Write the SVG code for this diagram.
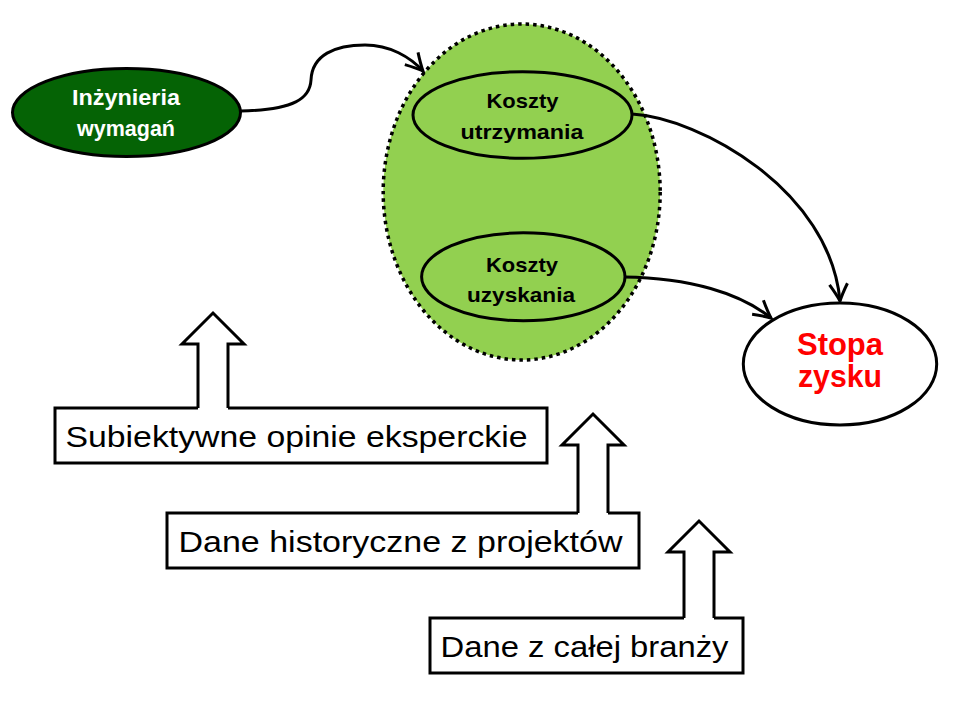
<svg xmlns="http://www.w3.org/2000/svg" width="960" height="720" viewBox="0 0 960 720">
<style>
  .lbl{font-family:"Liberation Sans","Noto Sans",sans-serif;font-weight:bold;text-anchor:middle}
  .box{fill:#ffffff;stroke:#000;stroke-width:3}
  .btxt{font-family:"Liberation Sans","Noto Sans",sans-serif;font-size:30px;fill:#000}
  .blk{fill:#ffffff;stroke:#000;stroke-width:3;stroke-linejoin:miter}
  .conn{fill:none;stroke:#000;stroke-width:3}
</style>
<defs>
  <marker id="arr" viewBox="-20 -11 23 22" refX="0" refY="0" markerWidth="23" markerHeight="22" markerUnits="userSpaceOnUse" orient="auto">
    <path d="M-17,-9 Q-7,-3 0,0 Q-7,3 -17,9" fill="none" stroke="#000" stroke-width="3" stroke-linejoin="miter"/>
  </marker>
</defs>
<rect width="960" height="720" fill="#ffffff"/>

<g id="group-costs">
  <ellipse cx="521.7" cy="192" rx="138.5" ry="168" fill="#92d050" stroke="#000" stroke-width="3.5" stroke-dasharray="3.5 4"/>
</g>

<g id="connectors">
  <path class="conn" d="M240.5,111 C295,110 310,98 311,80 C312,55 335,45 365,45 C390,45 410,57 423,71" marker-end="url(#arr)"/>
  <path class="conn" d="M632,114 C700,118 830,190 840,301" marker-end="url(#arr)"/>
  <path class="conn" d="M624,277 C690,278 740,293 771,318" marker-end="url(#arr)"/>
</g>

<g id="node-inzynieria">
  <ellipse cx="126.5" cy="112.5" rx="114" ry="44" fill="#056305" stroke="#000" stroke-width="3"/>
  <text class="lbl" x="126" y="105" font-size="22" fill="#ffffff" textLength="108" lengthAdjust="spacingAndGlyphs">Inżynieria</text>
  <text class="lbl" x="126" y="136" font-size="22" fill="#ffffff" textLength="98" lengthAdjust="spacingAndGlyphs">wymagań</text>
</g>

<g id="node-utrzymania">
  <ellipse cx="522.5" cy="115" rx="109.5" ry="43.3" fill="none" stroke="#000" stroke-width="3"/>
  <text class="lbl" x="522.5" y="108" font-size="21" fill="#000" textLength="72" lengthAdjust="spacingAndGlyphs">Koszty</text>
  <text class="lbl" x="522" y="139" font-size="21" fill="#000" textLength="123" lengthAdjust="spacingAndGlyphs">utrzymania</text>
</g>

<g id="node-uzyskania">
  <ellipse cx="523.3" cy="276.8" rx="101.7" ry="44" fill="none" stroke="#000" stroke-width="3"/>
  <text class="lbl" x="522" y="271.5" font-size="21" fill="#000" textLength="72" lengthAdjust="spacingAndGlyphs">Koszty</text>
  <text class="lbl" x="521" y="301.5" font-size="21" fill="#000" textLength="108" lengthAdjust="spacingAndGlyphs">uzyskania</text>
</g>

<g id="node-stopa">
  <ellipse cx="840" cy="364" rx="96.7" ry="61" fill="#ffffff" stroke="#000" stroke-width="3"/>
  <text class="lbl" x="840" y="355" font-size="31" fill="#ff0000" textLength="86" lengthAdjust="spacingAndGlyphs">Stopa</text>
  <text class="lbl" x="840" y="387" font-size="31" fill="#ff0000" textLength="84" lengthAdjust="spacingAndGlyphs">zysku</text>
</g>

<g id="node-subiektywne">
  <rect class="box" x="55" y="408" width="492" height="55"/>
  <text class="btxt" x="65.5" y="446.5" textLength="462" lengthAdjust="spacingAndGlyphs">Subiektywne opinie eksperckie</text>
  <polygon points="198,411 198,344 182,344 213,313 244,344 228,344 228,411" fill="#fff"/>
  <path class="blk" d="M198,408 L198,344 L182,344 L213,313 L244,344 L228,344 L228,408"/>
</g>

<g id="node-historyczne">
  <rect class="box" x="167" y="513" width="472" height="55"/>
  <text class="btxt" x="178.5" y="551.5" textLength="444" lengthAdjust="spacingAndGlyphs">Dane historyczne z projektów</text>
  <polygon points="578,516 578,445 562,445 593,414 624,445 608,445 608,516" fill="#fff"/>
  <path class="blk" d="M578,513 L578,445 L562,445 L593,414 L624,445 L608,445 L608,513"/>
</g>

<g id="node-branza">
  <rect class="box" x="430" y="618" width="313" height="55"/>
  <text class="btxt" x="440.5" y="656.5" textLength="288" lengthAdjust="spacingAndGlyphs">Dane z całej branży</text>
  <polygon points="684,621 684,552 668,552 699,521 730,552 714,552 714,621" fill="#fff"/>
  <path class="blk" d="M684,618 L684,552 L668,552 L699,521 L730,552 L714,552 L714,618"/>
</g>
</svg>
